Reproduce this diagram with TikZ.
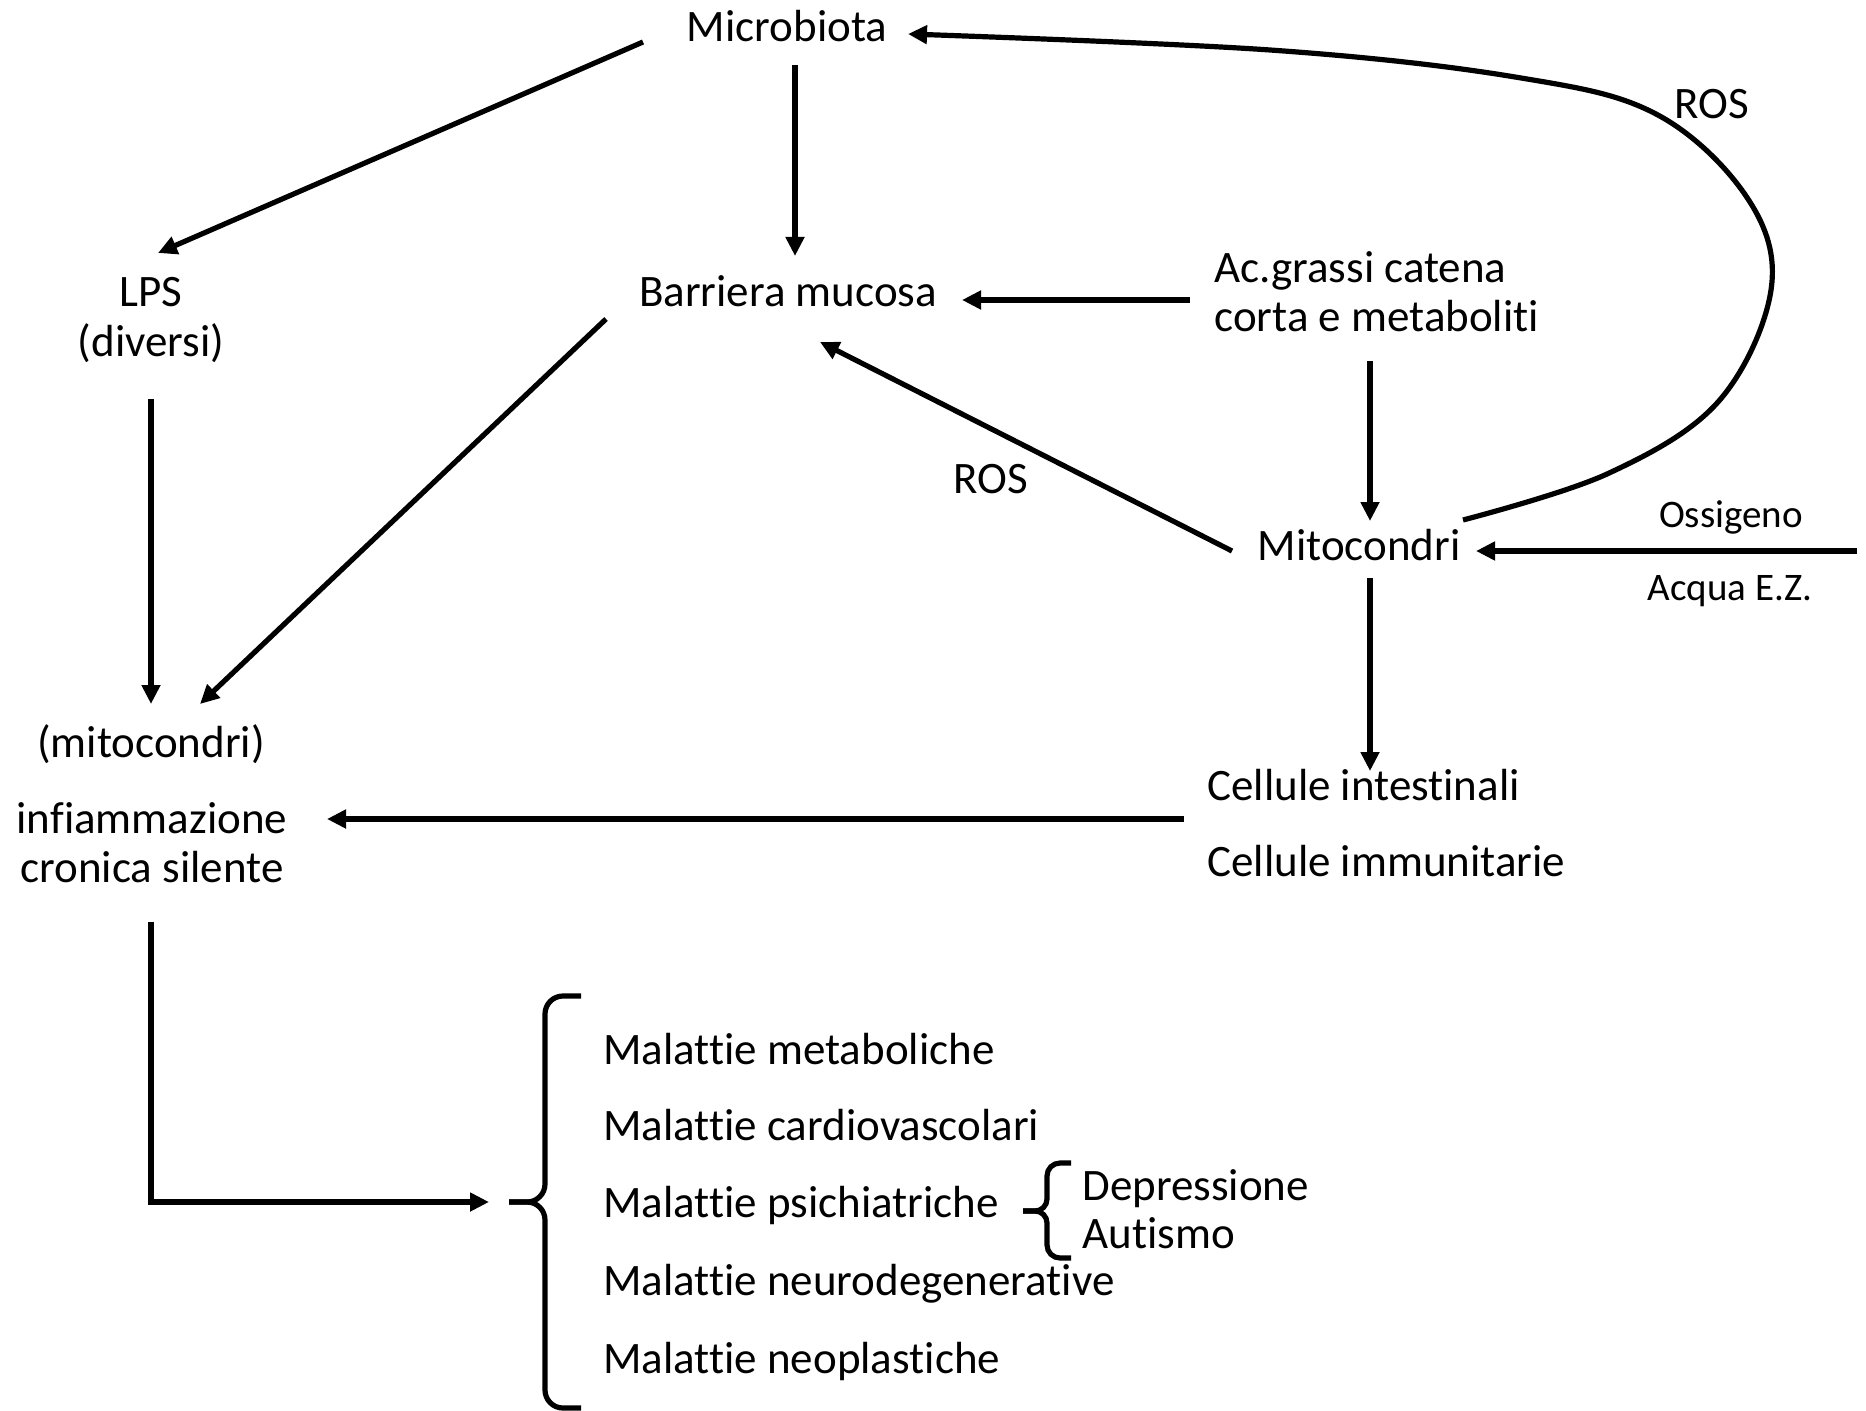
\documentclass[tikz,border=0pt]{standalone}
\usepackage{fontspec}
\setmainfont{Carlito}[RawFeature={-liga;-clig;-calt;-dlig}]
\usetikzlibrary{arrows.meta,calc}
\begin{document}
\begin{tikzpicture}[x=0.5pt,y=-0.5pt,
  lbl/.style={inner sep=0pt, font=\fontsize{22.5}{27}\selectfont, anchor=base},
  lblw/.style={lbl, anchor=base west},
  sml/.style={lbl, font=\fontsize{19.5}{23}\selectfont},
  arr/.style={line width=2.6pt, -{Triangle[length=9.5pt,width=9pt]}},
  brc/.style={line width=2.6pt}]
\useasboundingbox (0,0) rectangle (1866,1411);
% nodes
\node[lbl] (micro) at (787,42) {Microbiota};
\node[lbl] (lps) at (151,307) {LPS};
\node[lbl] (lps2) at (151,357) {(diversi)};
\node[lbl] (barr) at (788,307) {Barriera mucosa};
\node[lblw] (acg) at (1214,283) {Ac.grassi catena};
\node[lblw] (acg2) at (1214,332) {corta e metaboliti};
\node[lbl] (mito) at (1359,560) {Mitocondri};
\node[lbl] (ros1) at (991,493) {ROS};
\node[lbl] (ros2) at (1712,119) {ROS};
\node[sml] (oxy) at (1731,527) {Ossigeno};
\node[sml] (ez) at (1730,600) {Acqua E.Z.};
\node[lbl] (mitoc) at (151,757) {(mitocondri)};
\node[lbl] (infl) at (152,833) {infiammazione};
\node[lbl] (infl2) at (152,882) {cronica silente};
\node[lblw] (cell1) at (1207,800) {Cellule intestinali};
\node[lblw] (cell2) at (1207,876) {Cellule immunitarie};
\node[lblw] (m1) at (603,1064) {Malattie metaboliche};
\node[lblw] (m2) at (603,1140) {Malattie cardiovascolari};
\node[lblw] (m3) at (603,1217) {Malattie psichiatriche};
\node[lblw] (m4) at (603,1295) {Malattie neurodegenerative};
\node[lblw] (m5) at (603,1373) {Malattie neoplastiche};
\node[lblw] (dep) at (1082,1200) {Depressione};
\node[lblw] (aut) at (1082,1248) {Autismo};
\coordinate (btip) at (509,1202);
% connectors
\draw[arr] ($(micro.base)+(-144,0)$) -- ($(lps.base)+(7,-54)$);
\draw[arr] ($(micro.base)+(8,23)$) -- ($(barr.base)+(7,-51)$);
\draw[arr] ($(acg.base west)+(-24,17)$) -- ($(barr.base)+(174,-7)$);
\draw[arr] ($(acg2.base west)+(156,29)$) -- ($(mito.base)+(11,-39)$);
\draw[arr] ($(mito.base)+(-127,-9)$) -- ($(barr.base)+(32,35)$);
\draw[arr] plot[smooth, tension=0.6] coordinates {($(mito.base)+(104,-40)$) (1607,474) (1718,402) (1771,290) (1748,199) (1656,114) (1515,77) (1270,50) ($(micro.base)+(121,-8)$)};
\draw[arr] ($(oxy.base)+(126,24)$) -- ($(mito.base)+(117,-9)$);
\draw[arr] ($(mito.base)+(11,18)$) -- ($(cell1.base west)+(163,-29)$);
\draw[arr] ($(cell1.base west)+(-23,19)$) -- ($(infl.base)+(175,-14)$);
\draw[arr] ($(barr.base)+(-182,12)$) -- ($(mitoc.base)+(49,-53)$);
\draw[arr] ($(lps2.base)+(0,42)$) -- ($(mitoc.base)+(0,-53)$);
\draw[arr] ($(infl2.base)+(-1,40)$) |- ($(btip)+(-20,0)$);
% big brace
\draw[brc] (581,996) -- (563,996) to[out=180,in=90] (545,1014) -- (545,1184) to[out=-90,in=0] (527,1202) -- (btip);
\draw[brc] (btip) -- (527,1202) to[out=0,in=90] (545,1220) -- (545,1390) to[out=-90,in=180] (563,1408) -- (581,1408);
% small brace
\coordinate (stip) at (1023,1211);
\draw[brc] (1071,1163) -- (1060,1163) to[out=180,in=90] (1047,1176) -- (1047,1199) to[out=-90,in=0] (1035,1211) -- (stip);
\draw[brc] (stip) -- (1035,1211) to[out=0,in=90] (1047,1223) -- (1047,1245) to[out=-90,in=180] (1060,1258) -- (1071,1258);
\end{tikzpicture}
\end{document}
